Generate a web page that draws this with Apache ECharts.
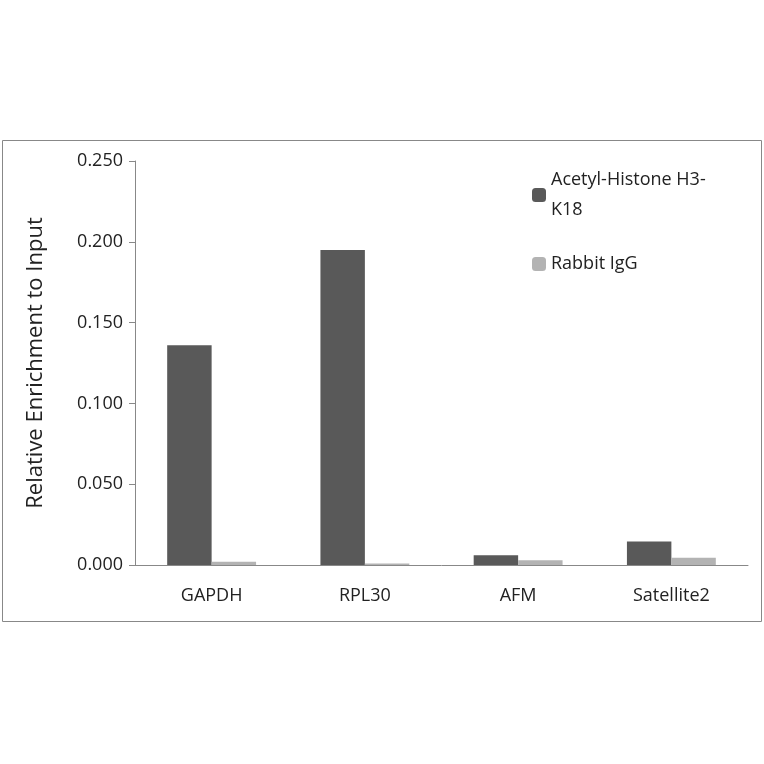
<!DOCTYPE html><html><head><meta charset="utf-8"><script src="https://cdn.jsdelivr.net/npm/echarts@6/dist/echarts.min.js"></script></head><body style="margin:0"><div id="c" style="width:764px;height:764px"></div><script>
const categories=['GAPDH','RPL30','AFM','Satellite2'];
const acetyl=[0.136,0.195,0.006,0.0145];
const igg=[0.002,0.001,0.003,0.0045];
const yTicks=[0,0.05,0.1,0.15,0.2,0.25];
const ch=echarts.init(document.getElementById('c'));
const F='"Open Sans", "DejaVu Sans", sans-serif';
ch.setOption({
 animation:false,
 graphic:[{type:'rect',shape:{x:2.5,y:140.5,width:759,height:481},style:{fill:'none',stroke:'#888',lineWidth:1}}],
 grid:{left:135,right:16,top:161,bottom:199},
 legend:{right:undefined,left:527,top:160,orient:'vertical',itemWidth:14,itemHeight:14,itemGap:24,
  textStyle:{fontFamily:F,fontSize:18,color:'#222',lineHeight:30},
  data:[{name:'Acetyl-Histone H3-\nK18'},{name:'Rabbit IgG'}]},
 xAxis:{type:'category',data:categories,axisLine:{lineStyle:{color:'#888'}},axisTick:{length:6,lineStyle:{color:'#888'}},
  axisLabel:{fontFamily:F,fontSize:18,color:'#222',margin:22}},
 yAxis:{type:'value',min:0,max:0.25,interval:0.05,splitLine:{show:false},
  axisLine:{show:true,lineStyle:{color:'#888'}},axisTick:{show:true,length:6,lineStyle:{color:'#888'}},
  axisLabel:{fontFamily:F,fontSize:18,color:'#222',margin:12,formatter:v=>v.toFixed(3)},
  name:'Relative Enrichment to Input',nameLocation:'middle',nameGap:88,nameTextStyle:{fontFamily:F,fontSize:22,color:'#222'}},
 series:[
  {name:'Acetyl-Histone H3-\nK18',type:'bar',data:acetyl,itemStyle:{color:'#595959'},barGap:'0%',barCategoryGap:'42%'},
  {name:'Rabbit IgG',type:'bar',data:igg,itemStyle:{color:'#b3b3b3'}}
 ]
});
</script></body></html>
